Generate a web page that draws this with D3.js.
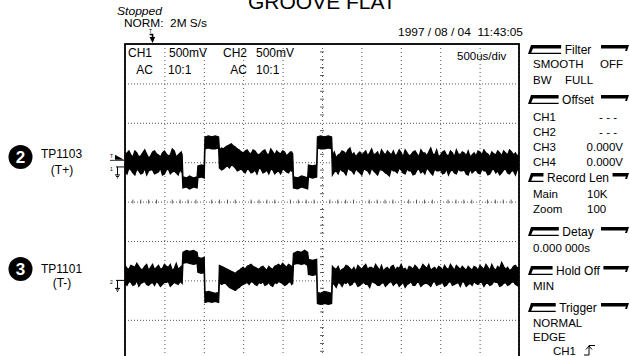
<!DOCTYPE html>
<html><head><meta charset="utf-8">
<script src="https://cdn.jsdelivr.net/npm/d3@7"></script>
<style>
body{margin:0;background:#fff;}
svg{display:block;font-family:"Liberation Sans",Arial,Helvetica,sans-serif;}
</style></head><body>
<svg id="c" width="630" height="356"></svg>
<script>
// ---------------- DATA ----------------
const title = "GROOVE FLAT";
const statusText = "Stopped";
const sampleText = "NORM:  2M S/s";
const dateText = "1997 / 08 / 04  11:43:05";
const timebaseText = "500us/div";
const timeDomain = [-2500, 2500];          // microseconds (10 div x 500 us)
const divDomain = [-4, 4];                 // vertical divisions
const mVPerDiv = 500;
const xTickValues = [-2500,-2000,-1500,-1000,-500,0,500,1000,1500,2000,2500];
const yTickValues = [-4,-3,-2,-1,0,1,2,3,4];
const channelLabels = ["CH1","CH2"];
const channelScales = ["500mV","500mV"];
const channelCoupling = ["AC","AC"];
const channelProbe = ["10:1","10:1"];
const probeNumbers = ["2","3"];
const probeNames = ["TP1103","TP1101"];
const probeNotes = ["(T+)","(T-)"];
const groundDiv = [0.88, -2.0];            // channel ground positions (div)
const triggerLevel = 115;                  // mV on CH1
const triggerTime = -2150;                 // us, trigger position marker

// envelope samples of each trace: [time us, upper mV, lower mV] relative to channel ground
const trace1 = [
[-2500,152,-51],[-2450,203,-13],[-2400,127,-76],[-2350,178,-25],[-2300,140,-89],[-2250,216,-13],[-2200,114,-51],[-2150,190,-38],[-2100,165,-76],[-2050,127,-13],[-2000,203,-89],[-1950,140,-25],[-1900,229,-63],[-1850,127,-76],[-1800,178,-25],[-1775,152,-51],
[-2475,178,-89],[-2425,152,-38],[-2375,203,-102],[-2325,127,-51],[-2275,178,-76],[-2225,165,-102],[-2175,140,-38],[-2125,203,-89],[-2075,152,-63],[-2025,178,-102],[-1975,165,-38],[-1925,152,-89],[-1875,203,-51],[-1825,152,-102],[-1787,190,-63],
[-1765,-127,-267],[-1720,-140,-254],[-1680,-114,-279],[-1630,-140,-254],[-1585,-127,-267],
[-1575,13,-140],[-1530,25,-127],[-1495,13,-140],
[-1485,381,229],[-1440,394,241],[-1400,381,229],[-1355,394,229],[-1312,381,241],
[-1302,216,-13],[-1250,229,-25],[-1200,267,13],[-1150,292,25],[-1100,254,-13],[-1050,216,-38],[-1000,178,-51],[-950,216,-25],[-900,165,-76],[-850,203,-38],[-800,152,-13],[-750,203,-76],[-700,165,-38],[-650,229,-25],[-600,152,-89],[-550,178,-51],[-500,203,-25],[-450,140,-63],[-400,190,-38],[-372,165,-25],
[-1275,241,-38],[-1225,254,0],[-1175,279,-13],[-1125,267,13],[-1075,229,-51],[-1025,190,-25],[-975,203,-76],[-925,178,-38],[-875,216,-63],[-825,165,-89],[-775,178,-25],[-725,216,-63],[-675,152,-89],[-625,190,-38],[-575,203,-63],[-525,165,-89],[-475,190,-38],[-425,165,-76],[-386,190,-51],
[-362,-127,-267],[-310,-140,-279],[-260,-114,-254],[-220,-127,-267],[-182,-140,-279],
[-172,25,-127],[-120,13,-140],[-68,25,-127],
[-58,381,241],[-20,394,229],[30,381,229],[80,394,241],[122,381,229],
[132,140,-102],[180,114,-51],[230,165,-25],[280,190,-63],[330,216,-13],[380,152,-51],[430,127,-25],[480,190,-76],[530,178,-25],[580,140,-51],[630,229,-13],[680,165,-76],[730,127,-38],[780,178,-51],[830,203,-89],[880,152,-25],[930,140,-51],[980,216,-13],[1030,127,-76],[1080,178,-25],[1130,152,-51],[1180,203,-89],[1230,127,-25],[1280,178,-51],[1330,140,-13],[1380,241,-76],[1430,152,-25],[1480,127,-51],[1530,190,-89],[1580,152,-25],[1630,203,-51],[1680,127,-76],[1730,165,-25],[1780,190,-51],[1830,140,-89],[1880,127,-25],[1930,178,-51],[1980,203,-76],[2030,152,-25],[2080,178,-51],[2130,127,-89],[2180,165,-25],[2230,203,-51],[2280,140,-76],[2330,178,-25],[2380,216,-89],[2430,152,-51],[2480,127,-25],[2500,178,-63],
[156,190,-63],[205,152,-89],[255,203,-51],[305,165,-102],[355,241,-38],[405,178,-89],[455,165,-51],[505,152,-102],[555,203,-38],[605,178,-89],[655,152,-51],[705,190,-102],[755,216,-38],[805,152,-76],[855,178,-114],[905,203,-51],[955,165,-76],[1005,178,-38],[1055,216,-89],[1105,140,-51],[1155,190,-102],[1205,165,-38],[1255,216,-76],[1305,178,-89],[1355,190,-38],[1405,165,-102],[1455,216,-51],[1505,152,-38],[1555,203,-76],[1605,140,-102],[1655,178,-38],[1705,216,-89],[1755,152,-51],[1805,178,-38],[1855,203,-102],[1905,152,-76],[1955,140,-38],[2005,190,-89],[2055,216,-51],[2105,165,-102],[2155,190,-38],[2205,152,-76],[2255,178,-102],[2305,203,-38],[2355,152,-76],[2405,190,-51],[2455,178,-102],[2490,152,-38]
];
const trace2 = [
[-2500,190,-38],[-2450,140,-13],[-2400,178,-63],[-2350,216,0],[-2300,140,-38],[-2250,178,-13],[-2200,127,-63],[-2150,203,-25],[-2100,165,-13],[-2050,140,-76],[-2000,203,-25],[-1950,165,-13],[-1900,127,-51],[-1850,216,-38],[-1800,165,-13],[-1775,140,-38],
[-2475,152,-63],[-2425,190,-25],[-2375,165,-51],[-2325,178,-76],[-2275,140,-25],[-2225,203,-51],[-2175,165,-38],[-2125,140,-63],[-2075,190,-38],[-2025,152,-51],[-1975,178,-25],[-1925,203,-76],[-1875,152,-25],[-1825,140,-51],[-1787,178,-25],
[-1765,356,216],[-1720,381,229],[-1680,368,216],[-1630,381,203],[-1585,356,216],
[-1575,292,102],[-1530,279,89],[-1495,292,102],
[-1485,-152,-279],[-1440,-140,-267],[-1400,-152,-279],[-1355,-165,-267],[-1312,-152,-279],
[-1302,190,-25],[-1250,165,-38],[-1200,140,-63],[-1150,114,-102],[-1100,89,-127],[-1050,127,-89],[-1000,165,-51],[-950,178,-25],[-900,203,-13],[-850,165,-51],[-800,140,-25],[-750,178,-13],[-700,127,-51],[-650,152,-63],[-600,178,-25],[-550,203,-13],[-500,216,-38],[-450,165,-51],[-400,190,-13],[-372,165,-38],
[-1275,178,-51],[-1225,152,-38],[-1175,127,-89],[-1125,102,-114],[-1075,114,-102],[-1025,152,-63],[-975,140,-38],[-925,190,-51],[-875,178,-25],[-825,152,-63],[-775,165,-38],[-725,152,-63],[-675,178,-25],[-625,140,-76],[-575,190,-38],[-525,178,-25],[-475,190,-63],[-425,203,-25],[-386,178,-51],
[-362,343,203],[-310,368,216],[-260,356,203],[-220,381,216],[-182,356,190],
[-172,267,76],[-120,254,63],[-68,267,76],
[-58,-152,-292],[-20,-165,-305],[30,-140,-292],[80,-152,-305],[122,-165,-292],
[132,178,-38],[180,140,-89],[230,114,-38],[280,152,-25],[330,178,-13],[380,127,-51],[430,114,-25],[480,165,-63],[530,178,-25],[580,140,-51],[630,165,-13],[680,203,-38],[730,127,-63],[780,114,-25],[830,165,-51],[880,178,-13],[930,127,-38],[980,152,-76],[1030,140,-25],[1080,114,-51],[1130,165,-13],[1180,190,-63],[1230,127,-25],[1280,203,-51],[1330,152,-38],[1380,127,-76],[1430,165,-13],[1480,178,-51],[1530,127,-25],[1580,152,-63],[1630,203,-13],[1680,127,-51],[1730,165,-25],[1780,178,-13],[1830,127,-76],[1880,152,-38],[1930,178,-13],[1980,127,-51],[2030,165,-25],[2080,203,-38],[2130,127,-63],[2180,152,-13],[2230,178,-25],[2280,229,-63],[2330,140,-25],[2380,127,-51],[2430,178,-13],[2480,152,-63],[2500,165,-38],
[156,152,-51],[205,178,-25],[255,140,-76],[305,190,-38],[355,152,-63],[405,165,-13],[455,190,-76],[505,140,-38],[555,203,-51],[605,165,-89],[655,140,-25],[705,165,-63],[755,190,-38],[805,152,-76],[855,127,-25],[905,190,-63],[955,165,-25],[1005,203,-51],[1055,152,-89],[1105,178,-38],[1155,140,-63],[1205,165,-25],[1255,152,-76],[1305,178,-38],[1355,203,-51],[1405,152,-25],[1455,127,-63],[1505,165,-38],[1555,190,-76],[1605,140,-25],[1655,165,-63],[1705,190,-38],[1755,140,-76],[1805,152,-25],[1855,178,-51],[1905,127,-63],[1955,165,-38],[2005,190,-25],[2055,140,-76],[2105,165,-38],[2155,203,-51],[2205,127,-25],[2255,152,-76],[2305,178,-38],[2355,165,-63],[2405,140,-25],[2455,190,-51],[2490,165,-76]
];
const traces = [trace1, trace2];

// side panel texts
const panelHeaders = ["Filter","Offset","Record Len","Detay","Hold Off","Trigger"];
const panelRows = [
  [["SMOOTH","OFF"],["BW","FULL"]],
  [["CH1","- - -"],["CH2","- - -"],["CH3","0.000V"],["CH4","0.000V"]],
  [["Main","10K"],["Zoom","100"]],
  [["0.000 000s",""]],
  [["MIN",""]],
  [["NORMAL",""],["EDGE",""],["CH1",""]]
];

// ---------------- LAYOUT / RENDER ----------------
const svg = d3.select("#c");
const x = d3.scaleLinear().domain(timeDomain).range([125, 519]);
const y = d3.scaleLinear().domain(divDomain).range([359.2, 44]);
const chY = (ch, mV) => y(groundDiv[ch] + mV / mVPerDiv);

// header texts (title partly above the page edge, as in the capture)
svg.append("text").attr("x",248).attr("y",8.5).attr("font-size",21).text(title);
svg.append("text").attr("x",117).attr("y",15).attr("font-size",10).attr("font-style","italic")
  .attr("textLength",45).attr("lengthAdjust","spacingAndGlyphs").text(statusText);
svg.append("text").attr("x",124).attr("y",26.5).attr("font-size",10.5).style("white-space","pre")
  .attr("textLength",83).attr("lengthAdjust","spacingAndGlyphs").text(sampleText);
svg.append("text").attr("x",398).attr("y",36).attr("font-size",11).style("white-space","pre")
  .attr("textLength",125).attr("lengthAdjust","spacingAndGlyphs").text(dateText);

// graticule grid via axes
const gridX = svg.append("g").attr("transform",`translate(0,${y(4)})`)
  .call(d3.axisBottom(x).tickValues(xTickValues).tickSize(y(-4)-y(4)).tickFormat(""));
gridX.select(".domain").remove();
gridX.selectAll(".tick line").attr("stroke","#555").attr("stroke-dasharray","1,3").attr("stroke-width",1);
const gridY = svg.append("g").attr("transform",`translate(${x(-2500)},0)`)
  .call(d3.axisRight(y).tickValues(yTickValues).tickSize(x(2500)-x(-2500)).tickFormat(""));
gridY.select(".domain").remove();
gridY.selectAll(".tick line").attr("stroke","#555").attr("stroke-dasharray","1,2").attr("stroke-width",1);

// minor ticks on centre cross
const minorT = d3.range(-2500, 2501, 100).filter(v => v % 500 !== 0);
svg.append("g").selectAll("line").data(minorT).join("line")
  .attr("x1",d=>x(d)).attr("x2",d=>x(d)).attr("y1",y(0)-2).attr("y2",y(0)+2)
  .attr("stroke","#333").attr("stroke-width",0.8);
const minorV = d3.range(-4, 4.01, 0.2).filter(v => Math.abs(v - Math.round(v)) > 0.01);
svg.append("g").selectAll("line").data(minorV).join("line")
  .attr("x1",x(0)-2).attr("x2",x(0)+2).attr("y1",d=>y(d)).attr("y2",d=>y(d))
  .attr("stroke","#333").attr("stroke-width",0.8);

// graticule box
svg.append("rect").attr("x",x(-2500)).attr("y",y(4)).attr("width",x(2500)-x(-2500)).attr("height",y(-4)-y(4))
  .attr("fill","none").attr("stroke","#000").attr("stroke-width",1.8);

// channel text in graticule
const chX = [[128,169,153,168],[223,256,247,256]];
channelLabels.forEach((c,i)=>{
  svg.append("text").attr("x",chX[i][0]).attr("y",57).attr("font-size",12).text(c);
  svg.append("text").attr("x",chX[i][1]).attr("y",57).attr("font-size",12).text(channelScales[i]);
  svg.append("text").attr("x",chX[i][2]).attr("y",74).attr("font-size",12).attr("text-anchor","end").text(channelCoupling[i]);
  svg.append("text").attr("x",chX[i][3]).attr("y",74).attr("font-size",12).text(channelProbe[i]);
});
svg.append("text").attr("x",457).attr("y",60).attr("font-size",11.5).text(timebaseText);

// traces
svg.append("clipPath").attr("id","clip").append("rect")
  .attr("x",x(-2500)).attr("y",y(4)).attr("width",x(2500)-x(-2500)).attr("height",y(-4)-y(4));
const tg = svg.append("g").attr("clip-path","url(#clip)");
traces.forEach((tr,i)=>{
  const sorted = tr.slice().sort((a,b)=>a[0]-b[0]);
  const area = d3.area().x(d=>x(d[0])).y0(d=>chY(i,d[2])).y1(d=>chY(i,d[1]));
  tg.append("path").datum(sorted).attr("d",area).attr("fill","#000").attr("stroke","#000").attr("stroke-width",1.3).attr("stroke-linejoin","miter");
});

// ground markers
groundDiv.forEach((g,i)=>{
  const gy = y(g);
  svg.append("text").attr("x",110).attr("y",gy+4).attr("font-size",5).text(String(i+1));
  svg.append("path").attr("d",`M116,${gy}H124M117.5,${gy}V${gy+8}M115,${gy+8}H120M116,${gy+9.5}H119M117,${gy+11}H118`)
    .attr("stroke","#000").attr("stroke-width",1).attr("fill","none");
});
// trigger level marker (CH1)
{
  const ty = chY(0, triggerLevel);
  svg.append("text").attr("x",110).attr("y",ty).attr("font-size",5).text("T");
  svg.append("path").attr("d",`M115,${ty-3}L124,${ty+2}L115,${ty+2}Z`).attr("fill","#000");
  svg.append("path").attr("d",`M110,${ty+2.5}H124`).attr("stroke","#000").attr("stroke-width",0.8);
}
// trigger position marker on top
{
  const tx = x(triggerTime);
  svg.append("text").attr("x",tx-3.5).attr("y",33).attr("font-size",5).text("T");
  svg.append("path").attr("d",`M${tx-3},34.5H${tx}V41`).attr("stroke","#000").attr("stroke-width",1.5).attr("fill","none");
  svg.append("path").attr("d",`M${tx-3},37L${tx+2.5},37L${tx},43Z`).attr("fill","#000");
}

// probe labels at left
const probeY = [[157,158,174],[269,273,287]];
probeNumbers.forEach((n,i)=>{
  svg.append("circle").attr("cx",20.5).attr("cy",probeY[i][0]).attr("r",12).attr("fill","#000");
  svg.append("text").attr("x",20.5).attr("y",probeY[i][0]+6).attr("text-anchor","middle")
    .attr("font-size",17).attr("font-weight","bold").attr("fill","#fff").text(n);
  svg.append("text").attr("x",41).attr("y",probeY[i][1]).attr("font-size",12).text(probeNames[i]);
  svg.append("text").attr("x",62).attr("y",probeY[i][2]).attr("font-size",12).attr("text-anchor","middle").text(probeNotes[i]);
});

// side panel
const headerY = [54,104,182,236,275,312];
const rowY = [[68,84],[121,136,151,166],[198,213],[252],[290],[327,341,355]];
const rowValX = [[[600,"start"],[565,"start"]],[[617,"end"],[617,"end"],[623,"end"],[623,"end"]],[[587,"start"],[587,"start"]],[[0,"start"]],[[0,"start"]],[[0,"start"],[0,"start"],[0,"start"]]];
const cx = 578;
panelHeaders.forEach((h,i)=>{
  const yb = headerY[i], yt = yb - 9;
  const t = svg.append("text").attr("x",cx).attr("y",yb).attr("text-anchor","middle").attr("font-size",12).text(h);
  const len = t.node().getComputedTextLength();
  const x0 = 528, x1 = cx - len/2 - 3.5, x2 = Math.max(601, cx + len/2 + 3.5), x3 = 630;
  svg.append("path").attr("d",`M${x0},${yb}L${x0+3},${yt}L${x1},${yt}L${x1},${yt+3.5}L${x0+5},${yt+3.5}L${x0+3.2},${yb-1.2}L${x1},${yb-1.2}L${x1},${yb}Z`).attr("fill","#000");
  svg.append("path").attr("d",`M${x2},${yt}L${x3-1},${yt}L${x3-3},${yt+6}L${x3-5},${yt+6}L${x3-4},${yt+3.5}L${x2},${yt+3.5}Z`).attr("fill","#000");
  panelRows[i].forEach((r,j)=>{
    const lx = (i===5 && j===2) ? 553 : 533;
    svg.append("text").attr("x",lx).attr("y",rowY[i][j]).attr("font-size",11.5).text(r[0]);
    if (r[1]) svg.append("text").attr("x",rowValX[i][j][0]).attr("y",rowY[i][j]).attr("font-size",11.5)
      .attr("text-anchor",rowValX[i][j][1]).style("white-space","pre").text(r[1]);
  });
});
// rising edge symbol next to trigger source
svg.append("path").attr("d","M584,355H589V345.5H595M586,349.5L589,346L592,349.5")
  .attr("stroke","#000").attr("stroke-width",1).attr("fill","none");
</script></body></html>
